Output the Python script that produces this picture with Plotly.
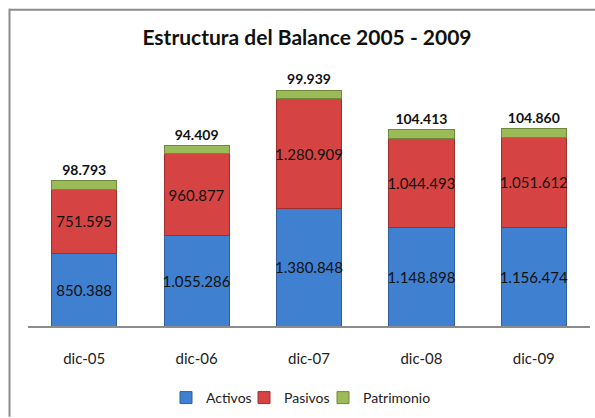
import plotly.graph_objects as go

categories = ["dic-05", "dic-06", "dic-07", "dic-08", "dic-09"]
activos = [850388, 1055286, 1380848, 1148898, 1156474]
pasivos = [751595, 960877, 1280909, 1044493, 1051612]
patrimonio = [98793, 94409, 99939, 104413, 104860]
series_names = ["Activos", "Pasivos", "Patrimonio"]

def fmt(v):
    return f"{v:,}".replace(",", ".")

FONT = "Lato"
W, H = 595, 418
L, R, T, B = 28, 5, 70, 91
PW, PH = W - L - R, H - T - B

fig = go.Figure()
fig.add_trace(go.Bar(
    x=categories, y=activos, name=series_names[0], legend="legend",
    marker=dict(color="#4080D0", line=dict(color="#2F5F9E", width=1)),
    text=[fmt(v) for v in activos], textposition="inside", insidetextanchor="middle",
    textangle=0, constraintext="none",
    textfont=dict(family=FONT, size=15, color="#111111"),
))
fig.add_trace(go.Bar(
    x=categories, y=pasivos, name=series_names[1], legend="legend2",
    marker=dict(color="#D64343", line=dict(color="#9E2F2F", width=1)),
    text=[fmt(v) for v in pasivos], textposition="inside", insidetextanchor="middle",
    textangle=0, constraintext="none",
    textfont=dict(family=FONT, size=15, color="#111111"),
))
fig.add_trace(go.Bar(
    x=categories, y=patrimonio, name=series_names[2], legend="legend3",
    marker=dict(color="#9BBB59", line=dict(color="#6E8A3A", width=1)),
    text=[fmt(v) for v in patrimonio], textposition="outside",
    textangle=0, constraintext="none", cliponaxis=False,
    textfont=dict(family=FONT, size=14, color="#111111", weight="bold"),
))

def leg(px_left):
    return dict(orientation="h", x=(px_left - L) / PW, xanchor="left",
                y=(T + PH - 398) / PH, yanchor="middle", itemwidth=30,
                font=dict(family=FONT, size=14, color="#222222"),
                bgcolor="rgba(0,0,0,0)")

fig.update_layout(
    barmode="stack",
    bargap=0.42,
    width=W, height=H,
    margin=dict(l=L, r=R, t=T, b=B),
    paper_bgcolor="white", plot_bgcolor="white",
    title=dict(text="<b>Estructura del Balance 2005 - 2009</b>", x=307 / W, xanchor="center",
               y=1 - 38 / H, yanchor="middle",
               font=dict(family=FONT, size=21, color="#111111")),
    font=dict(family=FONT, color="#222222"),
    xaxis=dict(showline=True, linecolor="#8C8C8C", linewidth=2, ticks="",
               ticklabelstandoff=18,
               tickfont=dict(family=FONT, size=15, color="#222222")),
    yaxis=dict(visible=False, range=[0, 3000000]),
    legend=leg(166),
    legend2=leg(244),
    legend3=leg(323),
    showlegend=True,
    uniformtext=dict(mode=False),
)
# chart frame (top and left edges visible in the reference), drawn as thin filled rects
fig.add_shape(type="rect", xref="paper", yref="paper",
              x0=(9 - L) / PW, x1=(W - L) / PW,
              y0=(T + PH - 10.5) / PH, y1=(T + PH - 8.5) / PH,
              line=dict(width=0), fillcolor="#8C8C8C", layer="above")
fig.add_shape(type="rect", xref="paper", yref="paper",
              x0=(8.5 - L) / PW, x1=(10.5 - L) / PW,
              y0=(T + PH - H) / PH, y1=(T + PH - 8.5) / PH,
              line=dict(width=0), fillcolor="#8C8C8C", layer="above")

fig.write_html("out.html", config={"displayModeBar": False},
               post_script="document.body.style.margin='0';document.body.style.overflow='hidden';")
